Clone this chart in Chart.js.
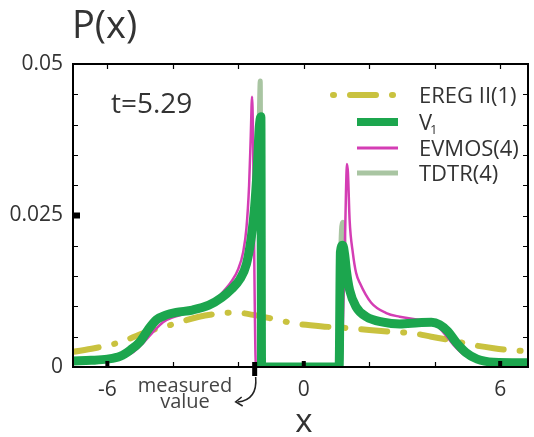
<!DOCTYPE html>
<html>
<head>
<meta charset="utf-8">
<script src="https://cdn.jsdelivr.net/npm/chart.js@4"></script>
<style>
  body { margin: 0; background: #fff; }
  #chart { display: block; }
</style>
</head>
<body>
<canvas id="chart" width="534" height="437"></canvas>
<script>
// Tick values and labels
const xTickValues = [-6, -4, -2, 0, 2, 4, 6];
const xTickLabels = ['-6', '', '', '0', '', '', '6'];
const yTickValues = [0, 0.005, 0.01, 0.015, 0.02, 0.025, 0.03, 0.035, 0.04, 0.045, 0.05];
const yTickLabels = ['0', '', '', '', '', '0.025', '', '', '', '', '0.05'];
const measuredValue = -1.5;

// EREG II(1)
const eregX = [-7.05, -6.4, -5.6, -4.9, -4.1, -3.2, -2.6, -2.1, -1.55, -0.9, -0.3, 0.2, 0.8, 1.4, 2.0, 2.7, 3.3, 3.9, 4.4, 4.85, 5.3, 5.8, 6.3, 6.85];
const eregY = [0.0025, 0.0031, 0.0041, 0.0056, 0.0069, 0.0083, 0.0088, 0.0090, 0.0086, 0.0079, 0.0072, 0.0069, 0.0066, 0.0064, 0.0061, 0.0058, 0.0056, 0.0050, 0.0045, 0.0040, 0.0035, 0.0031, 0.0028, 0.0026];

// V1
const v1X = [-7.05, -6.5, -6.0, -5.6, -5.3, -5.0, -4.75, -4.5, -4.2, -3.9, -3.4, -2.9, -2.5, -2.2, -1.95, -1.75, -1.6, -1.5, -1.42, -1.36, -1.31, -1.29, 0, 1.08, 1.12, 1.19, 1.25, 1.3, 1.4, 1.6, 1.91, 2.42, 2.93, 3.5, 3.9, 4.15, 4.4, 4.65, 4.95, 5.3, 5.8, 6.85];
const v1Y = [0.0010, 0.0011, 0.0013, 0.0018, 0.0028, 0.0042, 0.0062, 0.0078, 0.0086, 0.0090, 0.0094, 0.0102, 0.0115, 0.0129, 0.0145, 0.0170, 0.0215, 0.0265, 0.0330, 0.0395, 0.0413, 0, 0, 0, 0.0190, 0.0201, 0.0185, 0.0160, 0.0127, 0.0099, 0.0083, 0.0074, 0.0071, 0.0073, 0.0074, 0.0070, 0.0059, 0.0041, 0.0024, 0.0013, 0.0008, 0.0007];

// EVMOS(4)
const evmosX = [-7.05, -6.5, -6.0, -5.6, -5.2, -4.9, -4.6, -4.3, -4.0, -3.6, -3.2, -2.8, -2.5, -2.2, -2.0, -1.85, -1.75, -1.67, -1.62, -1.58, -1.46, 0, 1.15, 1.2, 1.25, 1.29, 1.32, 1.35, 1.4, 1.5, 1.6, 1.71, 2.06, 2.52, 2.93, 3.5, 3.95, 4.25, 4.55, 4.85, 5.25, 5.8, 6.85];
const evmosY = [0.0008, 0.0009, 0.0011, 0.0015, 0.0025, 0.0040, 0.0058, 0.0074, 0.0082, 0.0088, 0.0095, 0.0106, 0.0122, 0.0142, 0.0162, 0.0190, 0.0230, 0.0300, 0.0380, 0.0446, 0, 0, 0, 0.0080, 0.0185, 0.0290, 0.0335, 0.0320, 0.0243, 0.0188, 0.0155, 0.0139, 0.0106, 0.0089, 0.0083, 0.0078, 0.0073, 0.0058, 0.0038, 0.0022, 0.0012, 0.0008, 0.0007];

// TDTR(4)
const tdtrX = [-7.05, -6.0, -5.3, -4.75, -4.2, -3.4, -2.5, -1.95, -1.6, -1.45, -1.4, -1.36, -1.33, -1.30, 0, 1.08, 1.13, 1.19, 1.24, 1.3, 1.4, 1.6, 1.91, 2.42, 2.93, 3.5, 3.9, 4.4, 4.95, 5.8, 6.85];
const tdtrY = [0.0010, 0.0013, 0.0028, 0.0062, 0.0086, 0.0094, 0.0115, 0.0145, 0.0215, 0.0300, 0.0360, 0.0410, 0.0472, 0, 0, 0, 0.0190, 0.0239, 0.0190, 0.0162, 0.0127, 0.0099, 0.0083, 0.0074, 0.0071, 0.0073, 0.0074, 0.0059, 0.0024, 0.0008, 0.0007];

// Colors
const colors = {
  ereg: '#c9c23f',
  v1: '#1ca64e',
  evmos: '#d43db4',
  tdtr: '#a9c5a2',
  text: '#333333'
};
const eregDash = [26, 16, 1, 16];
const fontFamily = '"Open Sans", "DejaVu Sans", sans-serif';

function toPoints(xs, ys) {
  return xs.map((x, i) => ({ x: x, y: ys[i] }));
}

function lineDataset(label, xs, ys, color, width, order, extra) {
  return Object.assign({
    label: label,
    data: toPoints(xs, ys),
    borderColor: color,
    backgroundColor: color,
    borderWidth: width,
    pointRadius: 0,
    cubicInterpolationMode: 'monotone',
    borderJoinStyle: 'round',
    fill: false,
    clip: 0,
    order: order
  }, extra || {});
}

// Frame, inward ticks, annotations and legend
const decorPlugin = {
  id: 'decor',
  afterDatasetsDraw(chart) {
    const ctx = chart.ctx;
    const area = chart.chartArea;
    const xs = chart.scales.x;
    const ys = chart.scales.y;

    ctx.save();
    ctx.strokeStyle = '#000';
    ctx.fillStyle = '#000';
    ctx.lineWidth = 1.2;
    ctx.beginPath();
    xTickValues.forEach(v => {
      const px = Math.round(xs.getPixelForValue(v)) + 0.5;
      ctx.moveTo(px, area.bottom); ctx.lineTo(px, area.bottom - 5);
      ctx.moveTo(px, area.top); ctx.lineTo(px, area.top + 5);
    });
    yTickValues.forEach(v => {
      const py = Math.round(ys.getPixelForValue(v)) + 0.5;
      ctx.moveTo(area.left, py); ctx.lineTo(area.left + 5, py);
      ctx.moveTo(area.right, py); ctx.lineTo(area.right - 5, py);
    });
    ctx.stroke();

    // bold ticks
    [-6, 0, 6].forEach(v => {
      const px = xs.getPixelForValue(v);
      ctx.fillRect(px - 2, area.bottom - 6, 4, 6);
    });
    const mx = xs.getPixelForValue(measuredValue);
    ctx.fillRect(mx - 2.5, area.bottom - 5, 5, 14);
    const qy = ys.getPixelForValue(0.025);
    ctx.fillRect(area.left, qy - 3, 7, 6);

    // frame
    ctx.lineWidth = 2;
    ctx.strokeRect(area.left, area.top, area.right - area.left, area.bottom - area.top);
    ctx.restore();
  },
  afterDraw(chart) {
    const ctx = chart.ctx;
    const xs = chart.scales.x;
    ctx.save();
    ctx.fillStyle = colors.text;
    ctx.textBaseline = 'alphabetic';

    ctx.font = '38px ' + fontFamily;
    ctx.textAlign = 'left';
    ctx.fillText('P(x)', 72, 38);

    ctx.font = '28px ' + fontFamily;
    ctx.fillText('t=5.29', 111, 113);

    ctx.font = '33px ' + fontFamily;
    ctx.textAlign = 'center';
    ctx.fillText('x', xs.getPixelForValue(0), 432);

    ctx.fillStyle = '#444';
    ctx.font = '20px ' + fontFamily;
    ctx.fillText('measured', 185, 392);
    ctx.fillText('value', 185, 408);

    // arrow from the measured value tick
    const mx = xs.getPixelForValue(measuredValue);
    ctx.strokeStyle = '#222';
    ctx.lineWidth = 1.5;
    ctx.beginPath();
    ctx.moveTo(mx + 1, 377);
    ctx.quadraticCurveTo(mx + 3, 400, mx - 17, 402);
    ctx.stroke();
    ctx.beginPath();
    ctx.moveTo(mx - 13, 397);
    ctx.lineTo(mx - 19, 402);
    ctx.lineTo(mx - 12, 406);
    ctx.stroke();

    // legend
    const lx0 = 357, lx1 = 398, tx = 419;
    const rows = [
      { y: 95, label: 'EREG II(1)', color: colors.ereg, width: 6, dash: true },
      { y: 122, label: 'V', sub: '1', color: colors.v1, width: 8 },
      { y: 148, label: 'EVMOS(4)', color: colors.evmos, width: 3 },
      { y: 173, label: 'TDTR(4)', color: colors.tdtr, width: 5 }
    ];
    rows.forEach(r => {
      ctx.save();
      ctx.strokeStyle = r.color;
      ctx.lineWidth = r.width;
      ctx.beginPath();
      if (r.dash) {
        ctx.lineCap = 'round';
        ctx.setLineDash([1, 16, 26, 16, 1, 100]);
        ctx.moveTo(333, r.y); ctx.lineTo(400, r.y);
      } else {
        ctx.lineCap = 'butt';
        ctx.moveTo(lx0, r.y); ctx.lineTo(lx1, r.y);
      }
      ctx.stroke();
      ctx.restore();

      ctx.fillStyle = colors.text;
      ctx.textAlign = 'left';
      ctx.font = '22px ' + fontFamily;
      ctx.fillText(r.label, tx, r.y + 8);
      if (r.sub) {
        const w = ctx.measureText(r.label).width;
        ctx.font = '13px ' + fontFamily;
        ctx.fillText(r.sub, tx + w - 2, r.y + 12);
      }
    });
    ctx.restore();
  }
};

const ctx = document.getElementById('chart').getContext('2d');
const chart = new Chart(ctx, {
  type: 'line',
  data: {
    datasets: [
      lineDataset('V1', v1X, v1Y, colors.v1, 9, 0),
      lineDataset('EVMOS(4)', evmosX, evmosY, colors.evmos, 2.5, 1),
      lineDataset('TDTR(4)', tdtrX, tdtrY, colors.tdtr, 5, 2),
      lineDataset('EREG II(1)', eregX, eregY, colors.ereg, 6, 3, { borderDash: eregDash, borderCapStyle: 'round' })
    ]
  },
  options: {
    responsive: false,
    animation: false,
    devicePixelRatio: 1,
    layout: { padding: { top: 64, right: 6, left: 0, bottom: 0 } },
    plugins: {
      legend: { display: false },
      tooltip: { enabled: false }
    },
    scales: {
      x: {
        type: 'linear',
        min: -7.05,
        max: 6.85,
        grid: { display: false, drawTicks: false },
        border: { display: false },
        afterBuildTicks: axis => { axis.ticks = xTickValues.map(v => ({ value: v })); },
        afterFit: axis => { axis.height = 70; },
        ticks: {
          autoSkip: false,
          maxRotation: 0,
          padding: 10,
          color: colors.text,
          font: { family: fontFamily, size: 21 },
          callback: (value, index) => xTickLabels[index]
        }
      },
      y: {
        type: 'linear',
        min: 0,
        max: 0.05,
        grid: { display: false, drawTicks: false },
        border: { display: false },
        afterBuildTicks: axis => { axis.ticks = yTickValues.map(v => ({ value: v })); },
        afterFit: axis => { axis.width = 73; },
        ticks: {
          autoSkip: false,
          padding: 10,
          color: colors.text,
          font: { family: fontFamily, size: 21 },
          callback: (value, index) => yTickLabels[index]
        }
      }
    }
  },
  plugins: [decorPlugin]
});
</script>
</body>
</html>
